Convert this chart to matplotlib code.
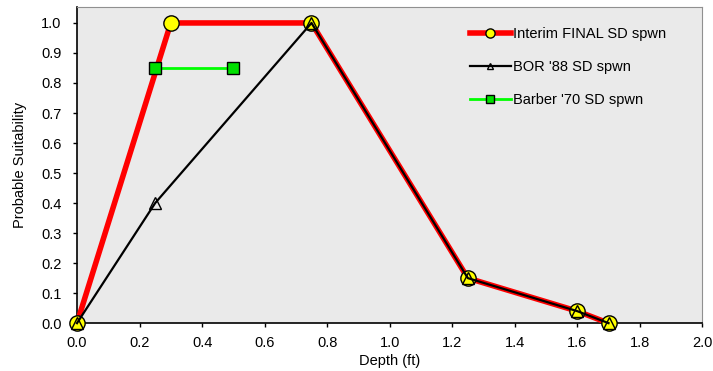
import numpy as np
import matplotlib
matplotlib.use("Agg")
import matplotlib.pyplot as plt

# Data
interim_x = [0.0, 0.3, 0.75, 1.25, 1.6, 1.7]
interim_y = [0.0, 1.0, 1.0, 0.15, 0.04, 0.0]

bor_x = [0.0, 0.25, 0.75, 1.25, 1.6, 1.7]
bor_y = [0.0, 0.4, 1.0, 0.15, 0.04, 0.0]

barber_x = [0.25, 0.5]
barber_y = [0.85, 0.85]

plt.rcParams['font.family'] = ['Liberation Sans', 'DejaVu Sans']
plt.rcParams['font.size'] = 10.5

fig = plt.figure(figsize=(7.13, 3.71), dpi=100)
ax = fig.add_axes([0.108, 0.129, 0.877, 0.852])
ax.set_facecolor("#EAEAEA")

ax.plot(interim_x, interim_y, color="red", lw=4, marker="o", markersize=11,
        markerfacecolor="yellow", markeredgecolor="black", markeredgewidth=1,
        label="Interim FINAL SD spwn", zorder=3, clip_on=False)
ax.plot(bor_x, bor_y, color="black", lw=1.6, marker="^", markersize=8,
        markerfacecolor="none", markeredgecolor="black", markeredgewidth=1,
        label="BOR '88 SD spwn", zorder=4, clip_on=False)
ax.plot(barber_x, barber_y, color="#00FF00", lw=2, marker="s", markersize=9,
        markerfacecolor="#00E000", markeredgecolor="black", markeredgewidth=1,
        label="Barber '70 SD spwn", zorder=5, clip_on=False)

ax.set_xlim(0, 2.0)
ax.set_ylim(0, 1.053)
ax.set_xticks(np.arange(0, 2.01, 0.2))
ax.set_yticks(np.arange(0, 1.01, 0.1))
ax.xaxis.set_major_formatter(matplotlib.ticker.FormatStrFormatter("%.1f"))
ax.yaxis.set_major_formatter(matplotlib.ticker.FormatStrFormatter("%.1f"))
ax.tick_params(direction="out", length=3, width=1)
ax.tick_params(axis="x", pad=6)
ax.tick_params(axis="y", pad=8)

for s in ["top", "right"]:
    ax.spines[s].set_color("#909090")
for s in ["left", "bottom"]:
    ax.spines[s].set_color("black")
    ax.spines[s].set_linewidth(1.2)

ax.set_xlabel("Depth (ft)", labelpad=3)
ax.set_ylabel("Probable Suitability", labelpad=10)

ax.legend(loc="upper left", bbox_to_anchor=(0.607, 0.978), frameon=False,
          handlelength=2.8, handletextpad=0.2, labelspacing=1.3,
          markerscale=0.6, fontsize=10.5)

fig.savefig("out.png", dpi=100)
